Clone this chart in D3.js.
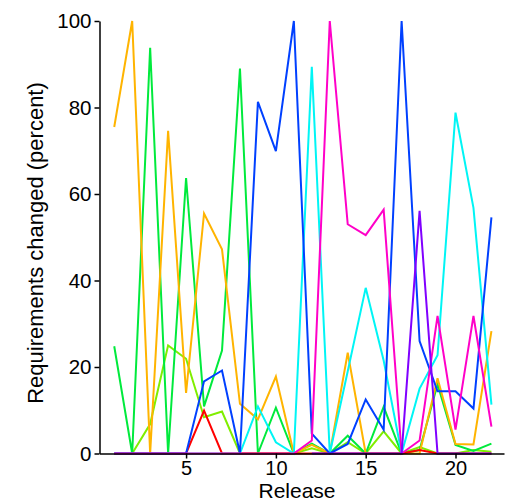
<!DOCTYPE html>
<html>
<head>
<meta charset="utf-8">
<script src="https://cdn.jsdelivr.net/npm/d3@7"></script>
<style>
  body { margin: 0; background: #fff; }
  svg { display: block; }
</style>
</head>
<body>
<div id="chart"></div>
<script>
// release numbers 1..22
const releases = [1, 2, 3, 4, 5, 6, 7, 8, 9, 10, 11, 12, 13, 14, 15, 16, 17, 18, 19, 20, 21, 22];

// percent of requirements changed, one array per project (null = no value)
const yellowGreen = [null, 0, 6.8, 25, 21.9, 8.4, 9.7, 0, 0, 0, 0, 1.2, 0, 2.6, 0, 5.1, 0, 1.5, 0, 0, 0.8, 0.4];
const green = [24.8, 0, 93.8, 0, 63.7, 10.9, 23.8, 89, 0, 10.6, 0, 2.3, 0, 4.1, 0, 10.8, 0, 0.8, 16, 2, 0.6, 2.3];
const orange = [75.5, 100, 0, 74.6, 14, 55.5, 47.2, 11.5, 7.9, 17.8, 0, 2, 0, 23.3, 0, 0, 0, 0, 17.4, 2.2, 2.1, 28.3];
const red = [0, 0, 0, 0, 0, 9.9, 0, 0, 0, 0, 0, 0, 0, 0, 0, 0, 0, 0.8, 0, 0, 0, 0];
const cyan = [0, 0, 0, 0, 0, 0, 0, 0, 10.9, 2.6, 0, 89.4, 0, 19, 38.3, 21.5, 0, 15, 22.7, 78.8, 56.8, 11.3];
const blue = [0, 0, 0, 0, 0, 16.7, 19.2, 0, 81.3, 69.9, 100, 4.6, 0, 2.2, 12.5, 5.5, 100, 26, 14.4, 14.4, 10.4, 54.6];
const magenta = [0, 0, 0, 0, 0, 0, 0, 0, 0, 0, 0, 3, 100, 53, 50.5, 56.4, 0, 3, 31.8, 5.5, 31.8, 6.2];
const purple = [null, null, null, null, null, null, null, null, null, null, null, 0, 0, 0, 0, 0, 0, 56.1, 0, 0, 0, 0];

const yTicks = [0, 20, 40, 60, 80, 100];
const xTicks = [5, 10, 15, 20];

// drawing order: later ones on top
const series = [
    {values: yellowGreen, color: "#80ee00"},
    {values: green, color: "#00ea3c"},
    {values: orange, color: "#ffb400"},
    {values: red, color: "#ff0000"},
    {values: cyan, color: "#00f5f5"},
    {values: blue, color: "#0040ff"},
    {values: magenta, color: "#ff00c8"},
    {values: purple, color: "#8000ff"}
];

const width = 505;
const height = 502;
const font = "Liberation Sans, Arial, sans-serif";

const svg = d3.select("#chart").append("svg")
    .attr("width", width)
    .attr("height", height);

const xScale = d3.scaleLinear()
    .domain([0.18, 22.7])
    .range([99.5, 504]);

const yScale = d3.scaleLinear()
    .domain([0, 100])
    .range([453.5, 21]);

// lines
const line = d3.line()
    .defined(d => d.v !== null)
    .x(d => xScale(d.r))
    .y(d => yScale(d.v));

const gLines = svg.append("g");
series.forEach(s => {
    const pts = releases.map((r, i) => ({r: r, v: s.values[i]}));
    gLines.append("path")
        .datum(pts)
        .attr("fill", "none")
        .attr("stroke", s.color)
        .attr("stroke-width", 2)
        .attr("stroke-linejoin", "miter")
        .attr("d", line);
});

// axes
const yAxis = d3.axisLeft(yScale)
    .tickValues(yTicks)
    .tickSize(5)
    .tickSizeOuter(0)
    .tickPadding(3);

const gY = svg.append("g")
    .attr("transform", "translate(99.5,0)")
    .call(yAxis);

const xAxis = d3.axisBottom(xScale)
    .tickValues(xTicks)
    .tickSize(5)
    .tickSizeOuter(0)
    .tickPadding(2);

const gX = svg.append("g")
    .attr("transform", "translate(0,453.5)")
    .call(xAxis);

[gX, gY].forEach(g => {
    g.select(".domain").attr("stroke", "#000").attr("stroke-width", 1.5);
    g.selectAll(".tick line").attr("stroke", "#000").attr("stroke-width", 1.5);
    g.selectAll(".tick text")
        .attr("fill", "#000")
        .attr("font-family", font)
        .attr("font-size", "20.5px");
});
gX.selectAll(".tick text").attr("font-size", "20px");

// axis titles
svg.append("text")
    .attr("x", 297)
    .attr("y", 497.5)
    .attr("text-anchor", "middle")
    .attr("font-family", font)
    .attr("font-size", "21px")
    .attr("fill", "#000")
    .text("Release");

svg.append("text")
    .attr("transform", "translate(43,243) rotate(-90)")
    .attr("text-anchor", "middle")
    .attr("font-family", font)
    .attr("font-size", "22px")
    .attr("fill", "#000")
    .text("Requirements changed (percent)");
</script>
</body>
</html>
